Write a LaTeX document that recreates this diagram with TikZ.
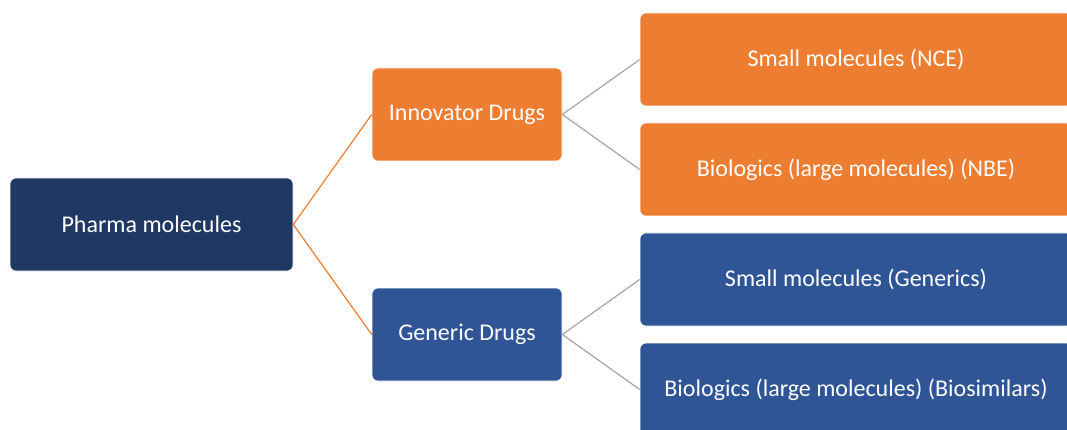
\documentclass[tikz,border=0pt]{standalone}
\usepackage{fontspec}
\setmainfont{Carlito}
\definecolor{rootblue}{HTML}{203864}
\definecolor{accorange}{HTML}{ED7D31}
\definecolor{accblue}{HTML}{2F5597}
\definecolor{linkgray}{HTML}{A5A5A5}
\begin{document}
\begin{tikzpicture}[x=1pt,y=-1pt,
  box/.style={rounded corners=6pt, draw=white, line width=0.6pt, text=white,
    font=\fontsize{24}{28}\selectfont, inner sep=0pt, minimum height=93pt,
    anchor=center},
  rootbox/.style={box, fill=rootblue, minimum width=283pt},
  midbox/.style={box, minimum width=190pt},
  leafbox/.style={box, minimum width=432pt},
  link/.style={line width=1.2pt}]
\useasboundingbox (0,0) rectangle (1067,430);
\clip (0,0) rectangle (1067,430);

% tree levels
\node[rootbox] (root) at (151.5,224.5) {Pharma molecules};
\node[midbox, fill=accorange] (innov) at (467,114.5) {Innovator Drugs};
\node[midbox, fill=accblue] (gen) at (467,334.5) {Generic Drugs};
\node[leafbox, fill=accorange] (nce) at (856,59.5) {Small molecules (NCE)};
\node[leafbox, fill=accorange] (nbe) at (856,169.5) {Biologics (large molecules) (NBE)};
\node[leafbox, fill=accblue] (smg) at (856,279.5) {Small molecules (Generics)};
\node[leafbox, fill=accblue] (bios) at (856,389.5) {Biologics (large molecules) (Biosimilars)};

% connectors
\draw[link, accorange] (innov.west) -- (root.east) -- (gen.west);
\draw[link, linkgray] (nce.west) -- (innov.east) -- (nbe.west);
\draw[link, linkgray] (smg.west) -- (gen.east) -- (bios.west);
\end{tikzpicture}
\end{document}
